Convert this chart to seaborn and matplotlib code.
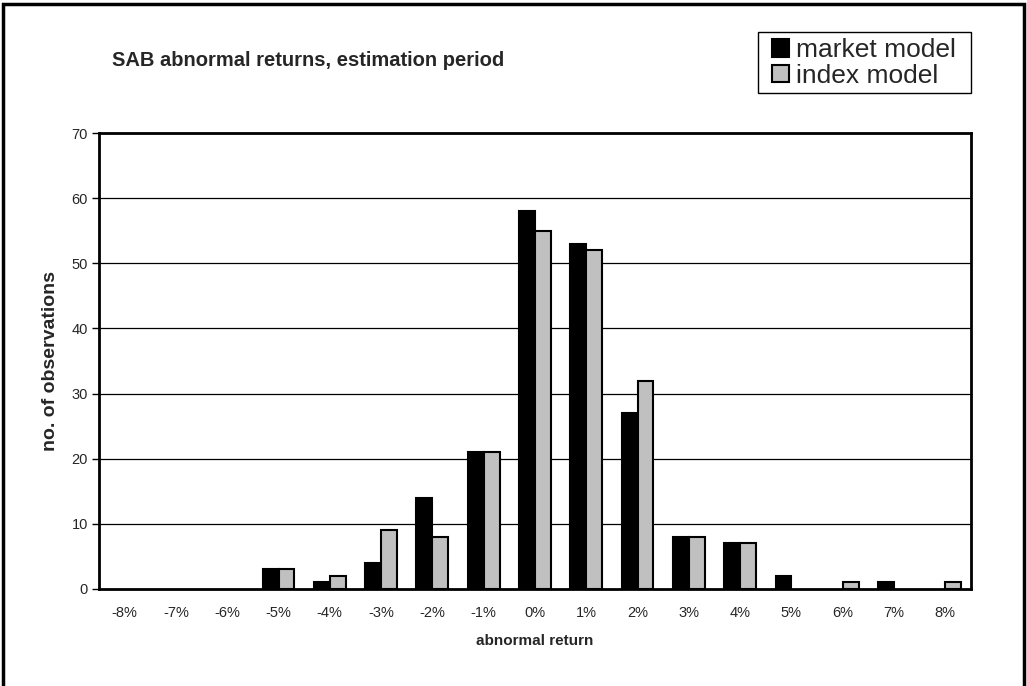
import matplotlib
matplotlib.use("Agg")
import matplotlib.pyplot as plt
from matplotlib.patches import Rectangle, Patch
import seaborn as sns
import pandas as pd

categories = ["-8%", "-7%", "-6%", "-5%", "-4%", "-3%", "-2%", "-1%", "0%",
              "1%", "2%", "3%", "4%", "5%", "6%", "7%", "8%"]
market_model = [0, 0, 0, 3, 1, 4, 14, 21, 58, 53, 27, 8, 7, 2, 0, 1, 0]
index_model = [0, 0, 0, 3, 2, 9, 8, 21, 55, 52, 32, 8, 7, 0, 1, 0, 1]
series_names = ["market model", "index model"]
series_colors = ["#000000", "#c0c0c0"]

df = pd.DataFrame({
    "return": categories * 2,
    "count": market_model + index_model,
    "model": [series_names[0]] * len(categories) + [series_names[1]] * len(categories),
})

sns.set_style("white")
plt.rcParams["font.family"] = ["Liberation Sans", "DejaVu Sans"]

W, H = 1027, 686
fig = plt.figure(figsize=(W / 100, H / 100), dpi=100)
ax = fig.add_axes([0.0964, 0.1414, 0.849, 0.6646])

sns.barplot(data=df, x="return", y="count", hue="model", order=categories,
            hue_order=series_names, palette=series_colors, width=0.62,
            edgecolor="black", linewidth=1.5, ax=ax, legend=False)

# empty bins show no bar at all
for patch in ax.patches:
    if patch.get_height() == 0:
        patch.set_visible(False)

ax.set_ylim(0, 70)
ax.set_xlim(-0.5, len(categories) - 0.5)
ax.set_yticks(range(0, 71, 10))
ax.set_yticklabels([str(v) for v in range(0, 71, 10)], fontsize=10.5)
ax.set_xticks(range(len(categories)))
ax.set_xticklabels(categories, fontsize=10.5)
ax.tick_params(axis="x", length=0, pad=12)
ax.set_xticks([i - 0.5 for i in range(len(categories) + 1)], minor=True)
ax.tick_params(axis="x", which="minor", length=5, width=1, direction="out", color="black")
ax.tick_params(axis="y", length=5, width=1, direction="out", color="black", pad=3)
ax.yaxis.set_tick_params(left=True)

for y in range(10, 70, 10):
    ax.axhline(y, color="black", linewidth=0.9, zorder=0)

for side in ["left", "bottom", "right", "top"]:
    ax.spines[side].set_visible(True)
    ax.spines[side].set_color("black")
    ax.spines[side].set_linewidth(2)

ax.set_xlabel("abnormal return", fontsize=11, fontweight="bold", labelpad=10)
ax.set_ylabel("no. of observations", fontsize=14, fontweight="bold", labelpad=9)

fig.text(112 / W, 1 - 60 / H, "SAB abnormal returns, estimation period",
         fontsize=14.5, fontweight="bold", va="center", ha="left")

# legend entries, with a separate box drawn around them
handles = [Patch(facecolor=c, edgecolor="black", linewidth=1.5) for c in series_colors]
leg = fig.legend(handles, series_names, loc="upper left",
                 bbox_to_anchor=(767 / W, 1 - 33 / H), fontsize=19, frameon=False,
                 handlelength=0.65, handleheight=0.65, handletextpad=0.25,
                 borderpad=0.2, labelspacing=0.05, borderaxespad=0)
fig.patches.append(Rectangle((758 / W, 1 - 93 / H), (971 - 758) / W, 61 / H,
                             transform=fig.transFigure, facecolor="white",
                             edgecolor="black", linewidth=1, zorder=0))

# outer frame around the chart area
fig.patches.append(Rectangle((0.003, -0.02), 0.994, 1.014, transform=fig.transFigure,
                             fill=False, edgecolor="black", linewidth=2.5))

fig.savefig("out.png", dpi=100)
